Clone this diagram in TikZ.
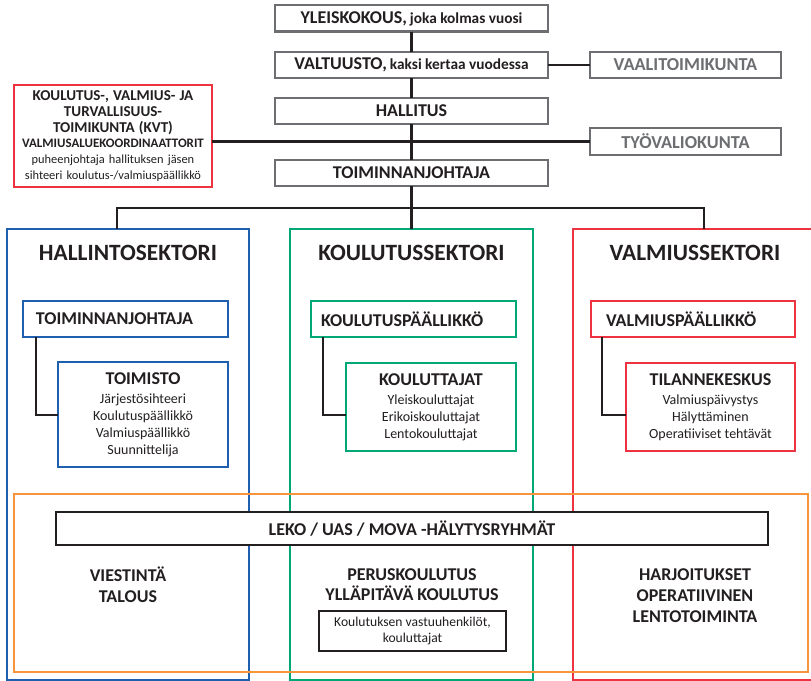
\documentclass[tikz,border=0pt]{standalone}
\usepackage{fontspec}
\setmainfont{Carlito}
\usetikzlibrary{calc}
\definecolor{dk}{HTML}{231F20}
\definecolor{gr}{HTML}{6D6E71}
\definecolor{bl}{HTML}{1F5FAD}
\definecolor{gn}{HTML}{00A878}
\definecolor{rd}{HTML}{EE3340}
\definecolor{orng}{HTML}{F7943C}
\newcommand\bigb[1]{{\bfseries\fontsize{13.5}{15}\selectfont #1}}
\newcommand\smb[1]{{\bfseries\fontsize{11.5}{13}\selectfont #1}}
\begin{document}
\begin{tikzpicture}[x=0.75pt,y=-0.75pt,
  topbox/.style={draw=gr, line width=1.8pt, fill=white, inner sep=0pt, outer sep=0pt,
    minimum width=204.75pt, minimum height=19.8pt, text=dk},
  sidebox/.style={draw=gr, line width=1.8pt, fill=white, inner sep=0pt, outer sep=0pt,
    minimum width=143.25pt, minimum height=19.8pt, text=gr,
    font=\bfseries\fontsize{13.7}{15}\selectfont},
  conn/.style={draw=dk, line width=2.2pt},
  sector/.style={draw=#1, line width=1.5pt, inner sep=0pt, outer sep=0pt,
    minimum height=337.9pt},
  sectitle/.style={text=dk, inner sep=0pt, font=\bfseries\fontsize{17.5}{20}\selectfont},
  leadbox/.style={draw=#1, line width=1.8pt, fill=white, outer sep=0pt, inner ysep=0pt,
    minimum height=27pt, align=left, text=dk, font=\bfseries\fontsize{13.5}{15}\selectfont},
  subbox/.style={draw=#1, line width=1.8pt, fill=white, inner sep=0pt, outer sep=0pt,
    align=center, text=dk, font=\fontsize{10.5}{12.75}\selectfont},
  bottxt/.style={text=dk, inner sep=0pt, align=center, font=\bfseries\fontsize{13.5}{15.5}\selectfont}
]
\useasboundingbox (0,0) rectangle (811,681);

% sectors
\node[sector=bl, minimum width=181.5pt] (hs) at (128,454.25) {};
\node[sector=gn, minimum width=182.25pt] (ks) at (411.5,454.25) {};
\node[sector=rd, minimum width=181.5pt] (vs) at (694,454.25) {};
\node[sectitle] (hst) at (128,253) {HALLINTOSEKTORI};
\node[sectitle] (kst) at (411.5,253) {KOULUTUSSEKTORI};
\node[sectitle] (vst) at (695,253) {VALMIUSSEKTORI};

% top chain
\node[topbox] (yleis) at (411.5,18.5) {\bigb{YLEISKOKOUS,} \smb{joka kolmas vuosi}};
\node[topbox] (valt) at (411.5,65) {\bigb{VALTUUSTO,} \smb{kaksi kertaa vuodessa}};
\node[topbox] (hall) at (411.5,111) {\bigb{HALLITUS}};
\node[topbox] (toim) at (411.5,173) {\bigb{TOIMINNANJOHTAJA}};
\node[sidebox] (vaali) at (685.5,65) {VAALITOIMIKUNTA};
\node[sidebox, minimum height=20.25pt] (tyo) at (685.5,141.5) {TYÖVALIOKUNTA};
\node[draw=rd, line width=1.8pt, fill=white, inner sep=0pt, outer sep=0pt,
  minimum width=148.5pt, minimum height=76.5pt, text width=146pt, align=center, text=dk,
  font=\fontsize{9.3}{11.8}\selectfont] (kvt) at (113,136)
  {{\bfseries\fontsize{11.3}{11.8}\selectfont KOULUTUS-, VALMIUS- JA}\\
   {\bfseries\fontsize{11.3}{11.8}\selectfont TURVALLISUUS-}\\
   {\bfseries\fontsize{11.3}{11.8}\selectfont TOIMIKUNTA (KVT)}\\
   {\bfseries\fontsize{9.7}{11.8}\selectfont VALMIUSALUEKOORDINAATTORIT}\\
   puheenjohtaja hallituksen jäsen\\
   sihteeri koulutus-/valmiuspäällikkö};

\draw[conn] (yleis.south) -- (valt.north);
\draw[conn] (valt.south) -- (hall.north);
\draw[conn] (hall.south) -- (toim.north);
\draw[conn] (valt.east) -- (vaali.west);
\draw[conn] (kvt.east |- tyo.west) -- (tyo.west);
\coordinate (j) at (411.5,208);
\coordinate (jl) at (117,208);
\coordinate (jr) at (704,208);
\draw[conn] (toim.south) -- (j) -- (ks.north);
\draw[conn] (hs.north -| jl) -- (jl) -- (jr) -- (vs.north -| jr);

% inner boxes
\node[leadbox=bl, text width=134.25pt, inner xsep=9.75pt] (hsl) at (125.5,319) {TOIMINNANJOHTAJA};
\node[leadbox=gn, text width=138.75pt, inner xsep=7.5pt] (ksl) at (413.5,319) {KOULUTUSPÄÄLLIKKÖ};
\node[leadbox=rd, text width=130.5pt, inner xsep=11.25pt] (vsl) at (693,319) {VALMIUSPÄÄLLIKKÖ};
\node[subbox=bl, minimum width=127.5pt, minimum height=78.75pt] (hss) at (143,414.5)
  {{\bfseries\fontsize{13.5}{14}\selectfont TOIMISTO}\\[1.5pt]Järjestösihteeri\\Koulutuspäällikkö\\Valmiuspäällikkö\\Suunnittelija};
\node[subbox=gn, minimum width=127.5pt, minimum height=66pt] (kss) at (431,407)
  {{\bfseries\fontsize{13.5}{14}\selectfont KOULUTTAJAT}\\[1.5pt]Yleiskouluttajat\\Erikoiskouluttajat\\Lentokouluttajat};
\node[subbox=rd, minimum width=126.75pt, minimum height=66pt] (vss) at (710.5,407)
  {{\bfseries\fontsize{13.5}{14}\selectfont TILANNEKESKUS}\\[1.5pt]Valmiuspäivystys\\Hälyttäminen\\Operatiiviset tehtävät};
\coordinate (hsc) at (36,415);
\coordinate (ksc) at (323,415);
\coordinate (vsc) at (602,415);
\draw[conn] (hsl.south -| hsc) -- (hsc) -- (hsc -| hss.west);
\draw[conn] (ksl.south -| ksc) -- (ksc) -- (ksc -| kss.west);
\draw[conn] (vsl.south -| vsc) -- (vsc) -- (vsc -| vss.west);

% bottom area
\node[draw=orng, line width=1.8pt, inner sep=0pt, outer sep=0pt,
  minimum width=595.5pt, minimum height=133.5pt] (ob) at (411,583) {};
\node[draw=dk, line width=2pt, fill=white, inner sep=0pt, outer sep=0pt,
  minimum width=534pt, minimum height=24.75pt, text=dk,
  font=\bfseries\fontsize{13.5}{15}\selectfont] (leko) at (412,528.5) {LEKO / UAS / MOVA -HÄLYTYSRYHMÄT};
\node[bottxt] (vt) at (128,584.5) {VIESTINTÄ\\TALOUS};
\node[bottxt] (pk) at (412,584.5) {PERUSKOULUTUS\\YLLÄPITÄVÄ KOULUTUS};
\node[bottxt] (ho) at (695,595.5) {HARJOITUKSET\\OPERATIIVINEN\\LENTOTOIMINTA};
\node[draw=dk, line width=2pt, fill=white, inner sep=0pt, outer sep=0pt,
  minimum width=140.25pt, minimum height=30pt, align=center, text=dk,
  font=\fontsize{10.2}{12.5}\selectfont] (kv) at (412.5,631) {Koulutuksen vastuuhenkilöt,\\kouluttajat};
\end{tikzpicture}
\end{document}
